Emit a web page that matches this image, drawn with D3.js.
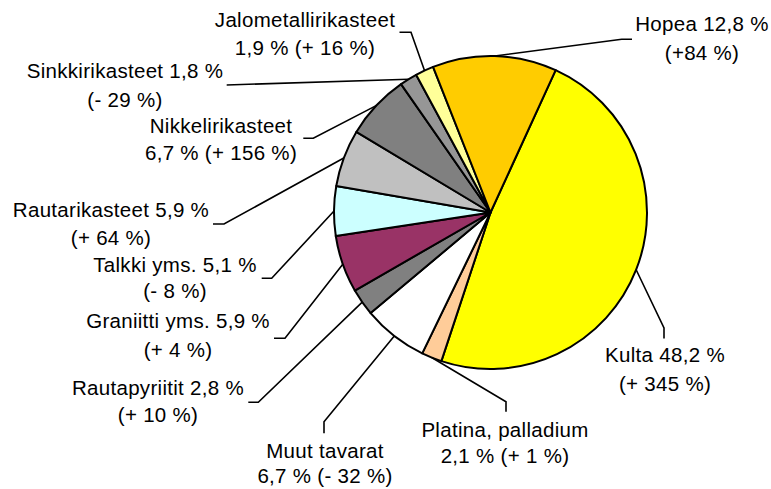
<!DOCTYPE html>
<html>
<head>
<meta charset="utf-8">
<script src="https://cdn.jsdelivr.net/npm/d3@7/dist/d3.min.js"></script>
<style>
  html, body { margin: 0; padding: 0; background: #fff; }
  svg { display: block; }
  text { font-family: "Liberation Sans", Arial, sans-serif; font-size: 20.5px; letter-spacing: 0.3px; fill: #000; }
</style>
</head>
<body>
<svg id="chart" width="771" height="489"></svg>
<script>
// ---- Data (clockwise order, starting from Kulta) ----
const categories = ["Kulta", "Platina, palladium", "Muut tavarat", "Rautapyriitit", "Graniitti yms.",
  "Talkki yms.", "Rautarikasteet", "Nikkelirikasteet", "Sinkkirikasteet", "Jalometallirikasteet", "Hopea"];
const shares = [48.2, 2.1, 6.7, 2.8, 5.9, 5.1, 5.9, 6.7, 1.8, 1.9, 12.8];
const shareLabels = ["48,2 %", "2,1 %", "6,7 %", "2,8 %", "5,9 %", "5,1 %", "5,9 %", "6,7 %", "1,8 %", "1,9 %", "12,8 %"];
const changeLabels = ["(+ 345 %)", "(+ 1 %)", "(- 32 %)", "(+ 10 %)", "(+ 4 %)", "(- 8 %)", "(+ 64 %)", "(+ 156 %)", "(- 29 %)", "(+ 16 %)", "(+84 %)"];
const colors = ["#FFFF00", "#FFCC99", "#FFFFFF", "#808080", "#993366", "#CCFFFF", "#C0C0C0", "#808080", "#969696", "#FFFF99", "#FFCC00"];

// ---- Layout (label placement, not data) ----
// split: whether the share goes on the first line (true) or second line with change (false)
const labelLayout = [
  { split: true,  x: 665, y: 361.7, dy: 29,   pts: [[664, 328], [664, 338.5]] },
  { split: false, x: 505, y: 437.3, dy: 26,   pts: [[506, 401.7], [506, 411.7]] },
  { split: false, x: 325, y: 458.3, dy: 25,   pts: [[324, 421.7], [324, 433.3]] },
  { split: true,  x: 158, y: 395,   dy: 26.7, pts: [[258.3, 402.3], [248.3, 402.3]] },
  { split: true,  x: 178, y: 328.3, dy: 29,   pts: [[285, 338.3], [274, 338.3]] },
  { split: true,  x: 175, y: 271.7, dy: 26.5, pts: [[271.7, 278.3], [261.7, 278.3]] },
  { split: true,  x: 111, y: 216.7, dy: 28.3, pts: [[224, 224], [213, 224]] },
  { split: false, x: 221, y: 132.7, dy: 27.5, pts: [[313.3, 138.3], [303.3, 138.3]] },
  { split: true,  x: 125, y: 78,    dy: 29,   pts: [[226.7, 85]] },
  { split: false, x: 305, y: 26.5,  dy: 28.5, pts: [[411, 32.3], [399.5, 32.3]] },
  { split: true,  x: 702, y: 30.7,  dy: 29.3, pts: [[621.7, 39.3], [632, 39.3]] }
];

const cx = 490.5, cy = 212.5, r = 156.5;
const startDeg = 24.6;

const svg = d3.select("#chart");
const g = svg.append("g").attr("transform", `translate(${cx},${cy})`);

const data = categories.map((c, i) => ({ name: c, value: shares[i], i }));
const pie = d3.pie().sort(null).value(d => d.value)
  .startAngle(startDeg * Math.PI / 180)
  .endAngle(startDeg * Math.PI / 180 + 2 * Math.PI);
const arcs = pie(data);
const arc = d3.arc().innerRadius(0).outerRadius(r);

g.selectAll("path.slice").data(arcs).enter().append("path")
  .attr("class", "slice")
  .attr("d", arc)
  .attr("fill", d => colors[d.data.i])
  .attr("stroke", "#000")
  .attr("stroke-width", 2)
  .attr("stroke-linejoin", "round");

// Leader lines
const line = d3.line();
arcs.forEach(a => {
  const L = labelLayout[a.data.i];
  const mid = (a.startAngle + a.endAngle) / 2;
  const p0 = [cx + r * Math.sin(mid), cy - r * Math.cos(mid)];
  svg.append("path")
    .attr("d", line([p0, ...L.pts]))
    .attr("fill", "none")
    .attr("stroke", "#000")
    .attr("stroke-width", 1.6);
});

// Labels
arcs.forEach(a => {
  const i = a.data.i;
  const L = labelLayout[i];
  const lines = L.split
    ? [categories[i] + " " + shareLabels[i], changeLabels[i]]
    : [categories[i], shareLabels[i] + " " + changeLabels[i]];
  const t = svg.append("text").attr("text-anchor", "middle");
  lines.forEach((s, k) => {
    t.append("tspan").attr("x", L.x).attr("y", L.y + k * L.dy).text(s);
  });
});
</script>
</body>
</html>
